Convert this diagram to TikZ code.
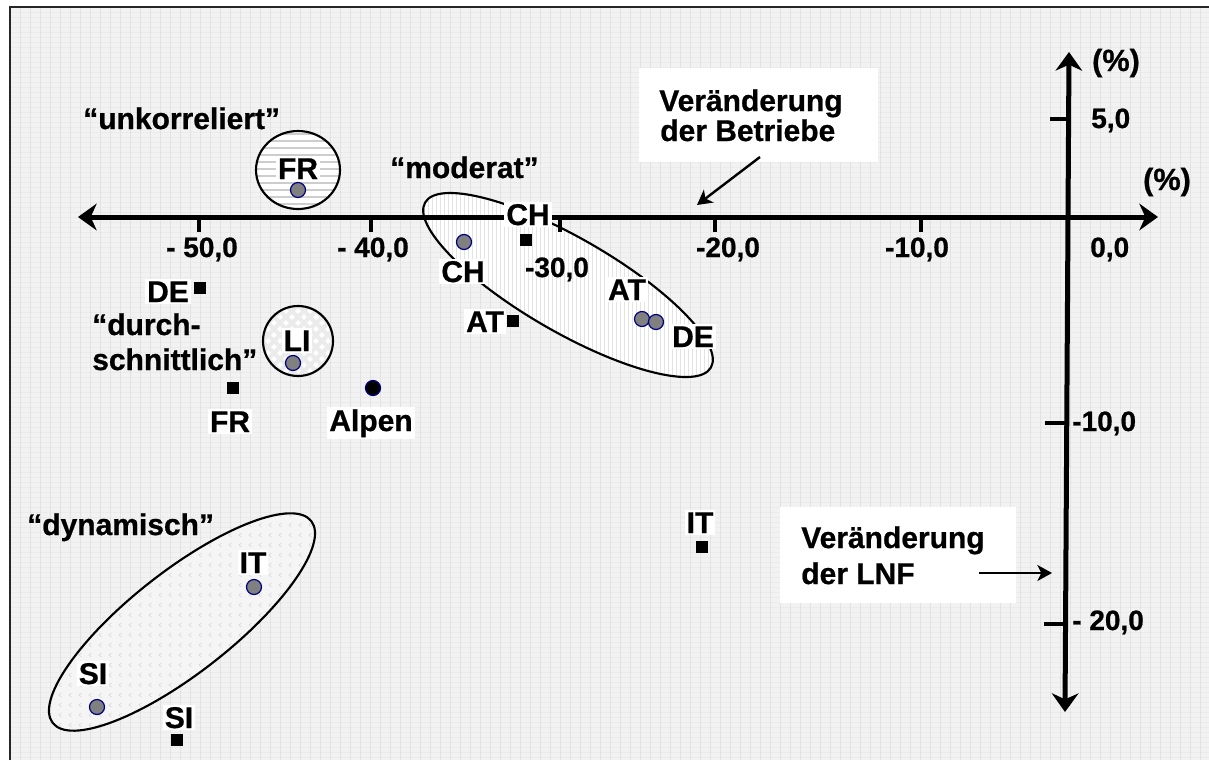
\documentclass[tikz,border=0pt]{standalone}
\usepackage{fontspec}
\setmainfont{Liberation Sans}[BoldFeatures={FakeBold=0.7}]
\usetikzlibrary{arrows.meta}
\definecolor{bgc}{RGB}{242,242,242}
\definecolor{gridv}{RGB}{226,226,226}
\definecolor{gridh}{RGB}{235,235,235}
\definecolor{dotc}{RGB}{128,128,128}
\definecolor{navyc}{RGB}{0,0,128}
\definecolor{stripec}{RGB}{205,205,205}
\begin{document}
\begin{tikzpicture}[x=0.75pt,y=-0.75pt,
  lbl/.style={font=\fontsize{22.5}{26}\selectfont\bfseries, inner sep=1.5pt},
  wlbl/.style={lbl, fill=white},
  num/.style={font=\fontsize{21}{25}\selectfont\bfseries, inner sep=0pt},
  pct/.style={font=\fontsize{23}{27}\selectfont\bfseries, inner sep=0pt},
  dotg/.style={circle, fill=dotc, draw=navyc, line width=0.9pt, minimum size=11.25pt, inner sep=0pt},
  dotb/.style={dotg, fill=black},
  sq/.style={rectangle, fill=black, minimum size=9pt, inner sep=0pt},
  axisline/.style={line width=3.75pt, {Stealth[length=14pt,width=20pt,inset=4.5pt]}-{Stealth[length=14pt,width=20pt,inset=4.5pt]}},
  tickmark/.style={line width=3pt},
  pointarrow/.style={line width=1.8pt, -{Stealth[length=11pt,width=12pt,inset=3pt]}},
  ringline/.style={draw=black, line width=1.6pt},
  wbox/.style={fill=white, inner sep=0pt},
]
\useasboundingbox (0,0) rectangle (1209,760);
% background
\fill[white] (0,0) rectangle (1209,760);
\fill[bgc] (10,7) rectangle (1209,760);
\foreach \gy in {12,17,...,757} \draw[gridh, line width=0.35pt] (10,\gy) -- (1209,\gy);
\foreach \gx in {20,30,...,1200} \draw[gridv, line width=0.4pt] (\gx,7) -- (\gx,760);
\draw[line width=1.6pt, black!85] (10,760) -- (10,7) -- (1209,7);

% FR ellipse (unkorreliert)
\begin{scope}
  \clip (298,170) ellipse (42 and 39);
  \fill[white] (250,125) rectangle (350,215);
  \foreach \yy in {134,141,...,210} \draw[stripec, line width=2.2pt] (250,\yy) -- (350,\yy);
\end{scope}
\draw[ringline] (298,170) ellipse (42 and 39);

% moderat ellipse
\begin{scope}
  \clip[rotate around={-30:(568,285)}] (568,285) ellipse (165 and 47);
  \fill[white] (400,180) rectangle (740,390);
  \foreach \xx in {400,404,...,740} \draw[gray!22, line width=0.6pt] (\xx,180) -- (\xx,390);
\end{scope}
\draw[ringline, rotate around={-30:(568,285)}] (568,285) ellipse (165 and 47);

% LI circle
\begin{scope}
  \clip (298,341) circle (35);
  \fill[white] (260,300) rectangle (340,380);
  \foreach \k in {-108,-96,...,108} {
    \draw[gray!16, line width=3pt] (298+\k-45,296) -- (298+\k+45,386);
    \draw[gray!16, line width=3pt] (298+\k+45,296) -- (298+\k-45,386);
  }
\end{scope}
\draw[ringline] (298,341) circle (35);

% dynamisch ellipse
\begin{scope}
  \clip[rotate around={38:(182,622)}] (182,622) ellipse (164 and 51);
  \fill[white!96!black] (40,500) rectangle (330,745);
  \foreach \xx in {40,50,...,330} \foreach \yy in {505,515,...,740}
    \draw[gray!28, line width=0.5pt] (\xx+1.5,\yy-2) -- (\xx-1,\yy) -- (\xx+1.5,\yy+2);
\end{scope}
\draw[ringline, rotate around={38:(182,622)}] (182,622) ellipse (164 and 51);

% axes
\coordinate (hL) at (78,217);
\coordinate (hR) at (1158,217);
\coordinate (vT) at (1069,52);
\coordinate (vB) at (1065,712);
\draw[axisline] (hL) -- (hR);
\draw[axisline] (vB) -- (vT);
% ticks
\foreach \tx in {199,371,560,715,921} \draw[tickmark] (\tx,217) -- (\tx,232);
\draw[tickmark] (1050,119) -- (1068,119);
\draw[tickmark] (1045,423) -- (1066,423);
\draw[tickmark] (1044,624) -- (1065,624);

% axis numbers
\node[num, anchor=base] (n50) at (202,257) {- 50,0};
\node[num, anchor=base] (n40) at (373,257) {- 40,0};
\node[num, anchor=base] (n30) at (557,277) {-30,0};
\node[num, anchor=base] (n20) at (728,257) {-20,0};
\node[num, anchor=base] (n10) at (917,257) {-10,0};
\node[num, anchor=base west] (n00) at (1090,257) {0,0};
\node[num, anchor=base west] (n5) at (1091,128) {5,0};
\node[num, anchor=base west] (nm10) at (1072,431) {-10,0};
\node[num, anchor=base west] (nm20) at (1072,630) {- 20,0};
\node[pct, anchor=base] (pctT) at (1116,71) {(\%)};
\node[pct, anchor=base] (pctR) at (1167,190) {(\%)};

% group titles
\node[lbl, anchor=base west, inner sep=0pt] (tUnk) at (83,129) {“unkorreliert”};
\node[lbl, anchor=base west, inner sep=0pt] (tMod) at (390,178) {“moderat”};
\node[lbl, anchor=base west, inner sep=0pt] (tDur1) at (92,335) {“durch-};
\node[lbl, anchor=base west, inner sep=0pt] (tDur2) at (92,370) {schnittlich”};
\node[lbl, anchor=base west, inner sep=0pt] (tDyn) at (27,535) {“dynamisch”};

% explanation boxes
\node[wbox, minimum width=179.25pt, minimum height=70.5pt] (boxB) at (758.5,115) {};
\node[lbl, anchor=base west, inner sep=0pt] (bT1) at (659,111) {Veränderung};
\node[lbl, anchor=base west, inner sep=0pt] (bT2) at (660,141) {der Betriebe};
\coordinate (bFrom) at (760,157);
\coordinate (bTip) at (697,205);
\draw[pointarrow] (bFrom) -- (bTip);

\node[wbox, minimum width=177pt, minimum height=72pt] (boxL) at (898,555) {};
\node[lbl, anchor=base west, inner sep=0pt] (lT1) at (801,548) {Veränderung};
\node[lbl, anchor=base west, inner sep=0pt] (lT2) at (801,584) {der LNF};
\coordinate (lFrom) at (979,573);
\coordinate (lTip) at (1052,573);
\draw[pointarrow] (lFrom) -- (lTip);

% country labels
\node[wlbl, anchor=base] (cFR1) at (298,179) {FR};
\node[wlbl, anchor=base] (cCH1) at (528,225) {CH};
\node[wlbl, anchor=base] (cCH2) at (463,282) {CH};
\node[wlbl, anchor=base] (cAT1) at (485,332) {AT};
\node[wlbl, anchor=base] (cAT2) at (627,300) {AT};
\node[wlbl, anchor=base] (cDE2) at (693,347) {DE};
\node[wlbl, anchor=base] (cDE1) at (168,302) {DE};
\node[wlbl, anchor=base] (cLI) at (297,351) {LI};
\node[wlbl, anchor=base] (cFR2) at (230,432) {FR};
\node[wlbl, anchor=base] (cAlp) at (371,431) {Alpen};
\node[wlbl, anchor=base] (cIT1) at (253,573) {IT};
\node[wlbl, anchor=base] (cSI1) at (93,684) {SI};
\node[wlbl, anchor=base] (cSI2) at (179,728) {SI};
\node[wlbl, anchor=base] (cIT2) at (700,533) {IT};

% dots
\node[dotg] (dFR) at (298,190) {};
\node[dotg] (dCH) at (464,242) {};
\node[dotg] (dAT) at (642,319) {};
\node[dotg] (dDE) at (656,322) {};
\node[dotg] (dLI) at (293,363) {};
\node[dotg] (dIT) at (254,587) {};
\node[dotg] (dSI) at (97,707) {};
\node[dotb] (dAlp) at (373,388) {};

% squares
\node[sq] (sCH) at (526,240) {};
\node[sq] (sAT) at (513,321) {};
\node[sq] (sDE) at (200,288) {};
\node[sq] (sFR) at (233,388) {};
\node[sq] (sIT) at (702,547) {};
\node[sq] (sSI) at (177,740) {};
\end{tikzpicture}
\end{document}
